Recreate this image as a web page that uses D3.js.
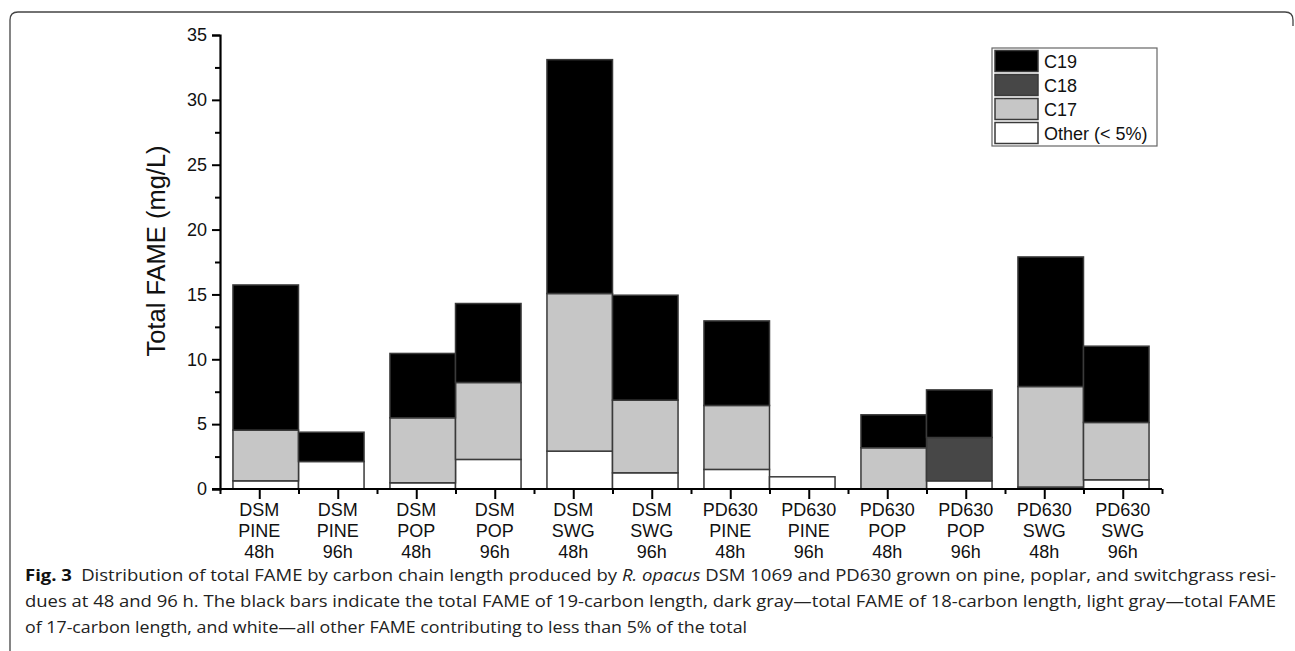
<!DOCTYPE html>
<html>
<head>
<meta charset="utf-8">
<script src="https://cdn.jsdelivr.net/npm/d3@7"></script>
<style>
  body { margin: 0; background: #fff; }
  svg { display: block; }
</style>
</head>
<body>
<svg width="1295" height="651"></svg>
<script>
// category labels (three lines each)
var strains = ["DSM", "DSM", "DSM", "DSM", "DSM", "DSM", "PD630", "PD630", "PD630", "PD630", "PD630", "PD630"];
var substrates = ["PINE", "PINE", "POP", "POP", "SWG", "SWG", "PINE", "PINE", "POP", "POP", "SWG", "SWG"];
var times = ["48h", "96h", "48h", "96h", "48h", "96h", "48h", "96h", "48h", "96h", "48h", "96h"];

// stacked segments, mg/L
var other = [0.63, 2.12, 0.48, 2.28, 2.92, 1.25, 1.51, 0.94, 0, 0.63, 0.15, 0.71];
var c17 = [3.91, 0, 5.01, 5.93, 12.15, 5.60, 4.93, 0, 3.18, 0, 7.75, 4.42];
var c18 = [0, 0, 0, 0, 0, 0, 0, 0, 0, 3.34, 0, 0];
var c19 = [11.19, 2.26, 4.96, 6.09, 18.03, 8.09, 6.52, 0, 2.54, 3.67, 9.99, 5.88];

var seriesKeys = ["other", "c17", "c18", "c19"];
var seriesNames = {c19: "C19", c18: "C18", c17: "C17", other: "Other (< 5%)"};
var seriesColors = {c19: "#000000", c18: "#474747", c17: "#c6c6c6", other: "#ffffff"};

var yTicks = [0, 5, 10, 15, 20, 25, 30, 35];

var svg = d3.select("svg");
var font = "'Liberation Sans', Arial, sans-serif";

var x = d3.scaleLinear().domain([0.5, 12.5]).range([220, 1162]);
var y = d3.scaleLinear().domain([0, 35]).range([489, 35]);
var barW = 0.835;

// frame around the figure
svg.append("path")
    .attr("d", "M10,651 L10,20 Q10,12 18,12 L1285,12 Q1293,12 1293,20 L1293,26")
    .attr("fill", "none")
    .attr("stroke", "#444")
    .attr("stroke-width", 1.3);

var rows = strains.map(function (s, i) {
    return {i: i, other: other[i], c17: c17[i], c18: c18[i], c19: c19[i]};
});
var stacked = d3.stack().keys(seriesKeys)(rows);

function barLeft(i) {
    var c = 2 * Math.floor(i / 2) + 1.5;
    return i % 2 === 0 ? c - barW : c;
}

var bars = svg.append("g").attr("class", "bars");
stacked.forEach(function (layer) {
    bars.selectAll(null)
        .data(layer.filter(function (d) { return d[1] - d[0] > 0; }))
        .enter().append("rect")
        .attr("x", function (d) { return x(barLeft(d.data.i)); })
        .attr("width", function (d) { return x(barLeft(d.data.i) + barW) - x(barLeft(d.data.i)); })
        .attr("y", function (d) { return y(d[1]); })
        .attr("height", function (d) { return y(d[0]) - y(d[1]); })
        .attr("fill", seriesColors[layer.key])
        .attr("stroke", "#3a3a3a")
        .attr("stroke-width", 1.5);
});

// y axis
var yAxis = svg.append("g").attr("transform", "translate(" + x(0.5) + ",0)");
yAxis.call(d3.axisLeft(y).tickValues(yTicks).tickSize(8).tickPadding(5).tickFormat(d3.format("d")));
yAxis.append("g").call(d3.axisLeft(y).tickValues(d3.range(2.5, 35, 5)).tickSize(5).tickFormat(""))
    .select(".domain").remove();

// x axis
var xAxis = svg.append("g").attr("transform", "translate(0," + y(0) + ")");
xAxis.call(d3.axisBottom(x).tickValues(d3.range(1, 13)).tickSize(10).tickSizeOuter(0).tickFormat(""));
xAxis.append("g").call(d3.axisBottom(x).tickValues(d3.range(0.5, 13, 1)).tickSize(5).tickFormat(""))
    .select(".domain").remove();

svg.selectAll(".domain").attr("stroke", "#000").attr("stroke-width", 2.2);
svg.selectAll(".tick line").attr("stroke", "#000").attr("stroke-width", 2);
yAxis.selectAll(".tick text")
    .attr("font-family", font).attr("font-size", 18).attr("fill", "#111");
// extend x axis line to the left to meet the 0 tick
xAxis.select(".domain").attr("d", "M" + (x(0.5) - 8) + ",0H" + x(12.5));

// category labels
var labels = svg.append("g").attr("font-family", font).attr("font-size", 18)
    .attr("fill", "#111").attr("text-anchor", "middle");
strains.forEach(function (s, i) {
    var t = labels.append("text").attr("x", x(i + 1)).attr("y", 516);
    [s, substrates[i], times[i]].forEach(function (line, k) {
        t.append("tspan").attr("x", x(i + 1)).attr("dy", k === 0 ? 0 : 21).text(line);
    });
});

// y axis title
svg.append("text")
    .attr("transform", "translate(165,251) rotate(-90)")
    .attr("text-anchor", "middle")
    .attr("font-family", font)
    .attr("font-size", 25.5)
    .attr("fill", "#111")
    .text("Total FAME (mg/L)");

// legend
var legend = svg.append("g").attr("transform", "translate(992,48)");
legend.append("rect").attr("width", 165).attr("height", 98)
    .attr("fill", "#fff").attr("stroke", "#666").attr("stroke-width", 1.2);
["c19", "c18", "c17", "other"].forEach(function (k, j) {
    var g = legend.append("g").attr("transform", "translate(3," + (2.5 + j * 24) + ")");
    g.append("rect").attr("width", 43).attr("height", 21)
        .attr("fill", seriesColors[k]).attr("stroke", "#3a3a3a").attr("stroke-width", 1.5);
    g.append("text").attr("x", 49).attr("y", 17)
        .attr("font-family", font).attr("font-size", 18).attr("fill", "#111")
        .text(seriesNames[k]);
});

// caption
var cap = svg.append("g").attr("font-family", "'Open Sans', 'Noto Sans', sans-serif")
    .attr("font-size", 16).attr("fill", "#222");
var l1 = cap.append("text").attr("x", 25).attr("y", 581)
    .attr("textLength", 1251).attr("lengthAdjust", "spacingAndGlyphs");
l1.append("tspan").attr("font-weight", "bold").attr("fill", "#111").text("Fig. 3");
l1.append("tspan").text("\u2002Distribution of total FAME by carbon chain length produced by ");
l1.append("tspan").attr("font-style", "italic").text("R. opacus");
l1.append("tspan").text(" DSM 1069 and PD630 grown on pine, poplar, and switchgrass resi-");
cap.append("text").attr("x", 25).attr("y", 607)
    .attr("textLength", 1251).attr("lengthAdjust", "spacingAndGlyphs")
    .text("dues at 48 and 96 h. The black bars indicate the total FAME of 19-carbon length, dark gray\u2014total FAME of 18-carbon length, light gray\u2014total FAME");
cap.append("text").attr("x", 25).attr("y", 633)
    .attr("textLength", 722).attr("lengthAdjust", "spacingAndGlyphs")
    .text("of 17-carbon length, and white\u2014all other FAME contributing to less than 5% of the total");
</script>
</body>
</html>
